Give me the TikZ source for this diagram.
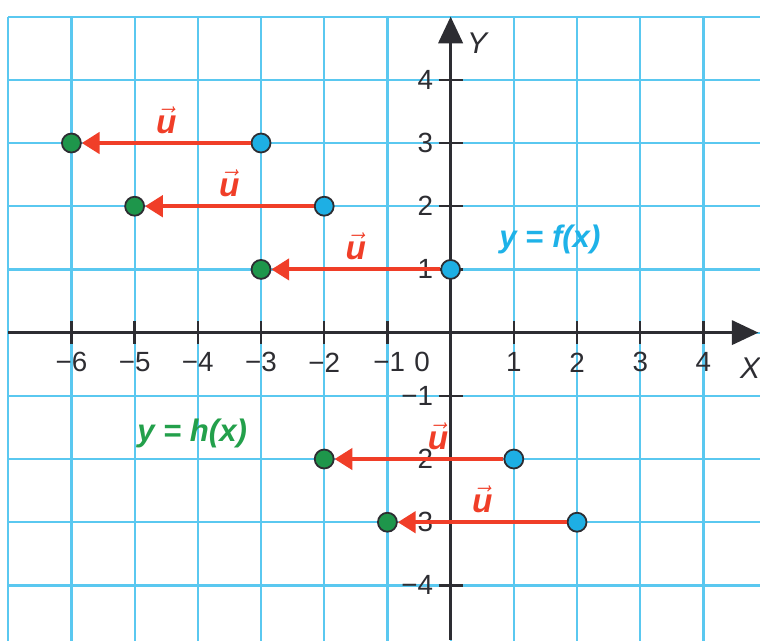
\documentclass[tikz,border=0pt]{standalone}
\usepackage{fontspec}
\setmainfont{Liberation Sans}
\usetikzlibrary{arrows.meta}
\definecolor{gridc}{RGB}{90,200,240}
\definecolor{axisc}{RGB}{45,45,50}
\definecolor{redc}{RGB}{240,62,40}
\definecolor{bluec}{RGB}{30,175,228}
\definecolor{greenc}{RGB}{30,150,75}
\definecolor{bluet}{RGB}{30,178,232}
\definecolor{greent}{RGB}{35,160,75}
\begin{document}
\begin{tikzpicture}[x=1cm,y=1cm,
  gridline/.style={gridc, line width=1pt},
  axisline/.style={axisc, line width=1.2pt, -{Triangle[length=12pt,width=11pt]}},
  ticksty/.style={axisc, line width=1.1pt},
  tlab/.style={font=\fontsize{12.5}{13}\selectfont, text=axisc, inner sep=0pt},
  fdot/.style={circle, draw=axisc, line width=0.8pt, fill=bluec, minimum size=0.3cm, inner sep=0pt},
  hdot/.style={circle, draw=axisc, line width=0.8pt, fill=greenc, minimum size=0.3cm, inner sep=0pt},
  uarrow/.style={redc, line width=1.8pt, -{Triangle[length=8pt,width=9.5pt]}},
  ulab/.style={text=redc, font=\fontsize{15}{15}\selectfont\bfseries\itshape, inner sep=0pt},
  funlab/.style={font=\fontsize{14}{14}\selectfont\bfseries\itshape, inner sep=0pt}
]
\useasboundingbox (-7.13,-4.864) rectangle (4.895,5.263);
\fill[white] (-7.13,-4.864) rectangle (4.895,5.263);
% grid
\begin{scope}
  \clip (-7.13,-4.864) rectangle (4.895,5.263);
  \draw[gridline] (-7,-5) grid (5,5);
\end{scope}
% axes
\coordinate (xs) at (-7,0);
\coordinate (xe) at (4.87,0);
\coordinate (ys) at (0,-4.864);
\coordinate (ye) at (0,5);
\draw[axisline] (xs) -- (xe);
\draw[axisline] (ys) -- (ye);
\node[tlab, font=\fontsize{13.5}{13}\selectfont\itshape] (xl) at (4.74,-0.56) {X};
\node[tlab, font=\fontsize{13.5}{13}\selectfont\itshape] (yl) at (0.42,4.58) {Y};
% ticks
\foreach \x in {-6,...,-1,1,2,3,4} \draw[ticksty] (\x,-0.18) -- (\x,0.18);
\foreach \y in {-4,...,-1,1,2,3,4} \draw[ticksty] (-0.19,\y) -- (0.19,\y);
% tick labels
\foreach \x in {-6,...,-2} \node[tlab] (lx\x) at (\x,-0.47) {−\the\numexpr-\x\relax};
\node[tlab] (lxm1) at (-0.97,-0.47) {−1};
\node[tlab] (lx0) at (-0.45,-0.47) {0};
\foreach \x in {1,2,3,4} \node[tlab] (lx\x) at (\x,-0.47) {\x};
\foreach \y in {1,2,3,4} \node[tlab, anchor=east] (ly\y) at (-0.27,\y) {\y};
\foreach \y in {1,2,3,4} \node[tlab, anchor=east] (lym\y) at (-0.27,-\y) {−\y};
% function labels
\node[funlab, text=bluet] (flab) at (1.57,1.47) {y = f(x)};
\node[funlab, text=greent] (hlab) at (-4.09,-1.59) {y = h(x)};
% points
\node[fdot] (f1) at (-3,3) {};
\node[fdot] (f2) at (-2,2) {};
\node[fdot] (f3) at (0,1) {};
\node[fdot] (f4) at (1,-2) {};
\node[fdot] (f5) at (2,-3) {};
\node[hdot] (h1) at (-6,3) {};
\node[hdot] (h2) at (-5,2) {};
\node[hdot] (h3) at (-3,1) {};
\node[hdot] (h4) at (-2,-2) {};
\node[hdot] (h5) at (-1,-3) {};
% translation arrows
\draw[uarrow] (f1) -- (h1);
\draw[uarrow] (f2) -- (h2);
\draw[uarrow] (f3) -- (h3);
\draw[uarrow] (f4) -- (h4);
\draw[uarrow] (f5) -- (h5);
% vector labels
\node[ulab] (u1) at (-4.5,3.36) {$\vec{\hbox{u}}$};
\node[ulab] (u2) at (-3.5,2.36) {$\vec{\hbox{u}}$};
\node[ulab] (u3) at (-1.5,1.36) {$\vec{\hbox{u}}$};
\node[ulab] (u4) at (-0.2,-1.64) {$\vec{\hbox{u}}$};
\node[ulab] (u5) at (0.5,-2.64) {$\vec{\hbox{u}}$};
\end{tikzpicture}
\end{document}
